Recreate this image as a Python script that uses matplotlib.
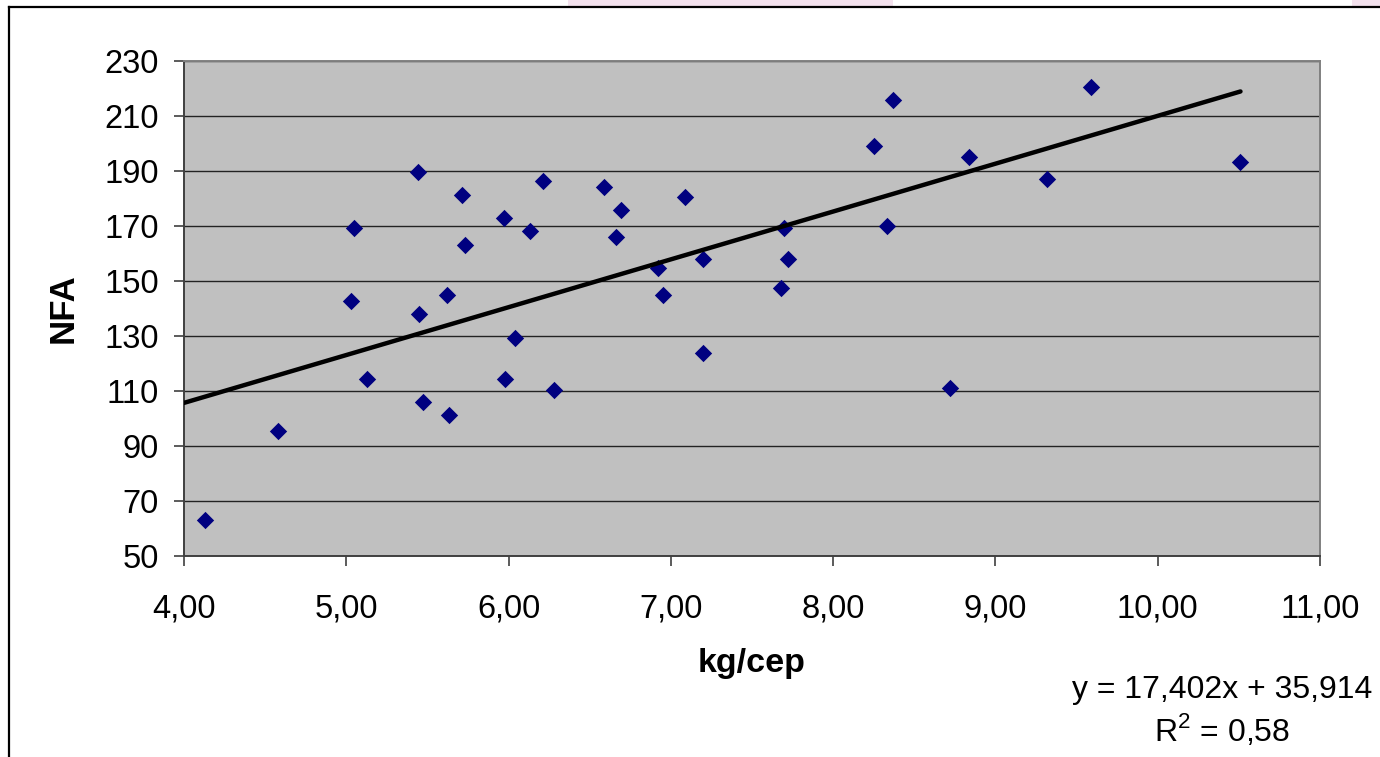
import numpy as np
import matplotlib.pyplot as plt
from matplotlib.lines import Line2D
from matplotlib.patches import Rectangle
from matplotlib.ticker import FuncFormatter

plt.rcParams["font.family"] = ["Liberation Sans", "DejaVu Sans"]
plt.rcParams["mathtext.fontset"] = "custom"
plt.rcParams["mathtext.rm"] = "Liberation Sans"

# kg/cep vs NFA
kg_cep = [4.13, 4.58, 5.03, 5.05, 5.13, 5.44, 5.45, 5.47, 5.62, 5.63,
          5.71, 5.73, 5.97, 5.98, 6.04, 6.13, 6.21, 6.28, 6.59, 6.66,
          6.69, 6.92, 6.95, 7.09, 7.20, 7.20, 7.68, 7.70, 7.72, 8.25,
          8.33, 8.37, 8.72, 8.84, 9.32, 9.59, 10.51]
nfa = [62.8, 95.2, 142.6, 169.0, 114.1, 189.5, 138.0, 105.8, 144.8, 101.0,
       181.0, 163.0, 172.8, 114.1, 129.0, 168.2, 186.3, 110.1, 184.1, 165.9,
       175.7, 154.6, 144.8, 180.4, 157.9, 123.6, 147.2, 169.2, 157.9, 199.1,
       169.9, 215.8, 110.9, 195.0, 187.0, 220.3, 193.1]

slope, intercept = 17.402, 35.914
r2 = 0.58

fig = plt.figure(figsize=(13.8, 7.57), dpi=100)
ax = fig.add_axes([184 / 1380, 1 - 555.5 / 757, 1136 / 1380, 494.8 / 757])
ax.set_facecolor("#C0C0C0")

# outer chart frame and the pink strip above it
fig.add_artist(Line2D([9 / 1380, 9 / 1380], [0, 1 - 7 / 757], color="black", lw=1.6))
fig.add_artist(Line2D([9 / 1380, 1], [1 - 7 / 757, 1 - 7 / 757], color="black", lw=1.6))
fig.add_artist(Rectangle((568 / 1380, 1 - 6 / 757), 325 / 1380, 6 / 757,
                         transform=fig.transFigure, color="#F3E1ED", lw=0))
fig.add_artist(Rectangle((1352 / 1380, 1 - 6 / 757), 28 / 1380, 6 / 757,
                         transform=fig.transFigure, color="#F3E1ED", lw=0))

ax.set_xlim(4, 11)
ax.set_ylim(50, 230)
ax.set_xticks(np.arange(4, 11.5, 1))
ax.set_yticks(np.arange(50, 231, 20))
ax.xaxis.set_major_formatter(FuncFormatter(lambda v, p: f"{v:.2f}".replace(".", ",")))
ax.yaxis.grid(True, color="#222222", lw=1.0)
ax.set_axisbelow(True)

for side in ["top", "right"]:
    ax.spines[side].set_color("#808080")
    ax.spines[side].set_linewidth(1.4)
for side in ["left", "bottom"]:
    ax.spines[side].set_color("#404040")
    ax.spines[side].set_linewidth(1.4)

ax.tick_params(axis="both", direction="out", length=7, width=1.2, color="#404040",
               labelsize=23.5)
ax.tick_params(axis="y", pad=11)
ax.tick_params(axis="x", pad=20)

ax.scatter(kg_cep, nfa, marker="D", s=78, color="#000080", zorder=3, lw=0)

xt = np.linspace(4.0, max(kg_cep), 50)
ax.plot(xt, slope * xt + intercept, color="black", lw=3.2, solid_capstyle="round", zorder=4)

ax.set_xlabel("kg/cep", fontsize=24.5, fontweight="bold", labelpad=17)
ax.set_ylabel("NFA", fontsize=25, fontweight="bold", labelpad=18)

eq = f"y = {slope:.3f}x + {intercept:.3f}".replace(".", ",")
fig.text(1222 / 1380, 1 - 690 / 757, eq, fontsize=23, ha="center", va="center")
fig.text(1222 / 1380, 1 - 730 / 757, r"R$^{\mathrm{2}}$ = " + f"{r2:.2f}".replace(".", ","),
         fontsize=23, ha="center", va="center")

plt.savefig("out.png", dpi=100)
